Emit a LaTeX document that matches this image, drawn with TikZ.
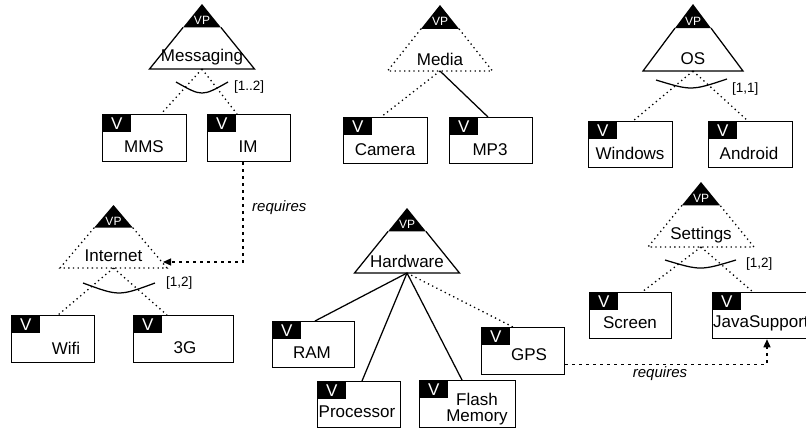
\documentclass[tikz,border=0pt]{standalone}
\usepackage{fontspec}
\setmainfont{Liberation Sans}
\usetikzlibrary{calc,arrows.meta}
\newcommand\vptri[7]{%
  \coordinate (#1A) at (#2,#3);
  \coordinate (#1L) at ({#2-#5},#4);
  \coordinate (#1R) at ({#2+#5},#4);
  \coordinate (#1B) at (#2,#4);
  \coordinate (#1l) at ($(#1A)!0.36!(#1L)$);
  \coordinate (#1r) at ($(#1A)!0.36!(#1R)$);
  \coordinate (#1m) at ($(#1l)!0.5!(#1r)$);
  \fill[white] (#1A)--(#1L)--(#1R)--cycle;
  \draw[#6] (#1l)--(#1L)--(#1R)--(#1r);
  \fill[black] (#1A)--(#1l)--(#1r)--cycle;
  \node[vptext] (#1vp) at ($(#1A)!0.7!(#1m)$) {VP};
  \node[lbl] (#1t) at ($(#1B)+(0,-12)$) {#7};
}
\newcommand\varbox[5]{%
  \node[vbox, anchor=north west, minimum width=#4pt, minimum height=#5pt] (#1) at (#2,#3) {};
  \node[vlab, anchor=north west] (#1v) at (#1.north west) {V};
}
\begin{document}
\begin{tikzpicture}[x=1pt,y=-1pt,
  line join=miter,
  solidline/.style={line width=1.25pt},
  dots/.style={line width=1.3pt, dash pattern=on 1.3pt off 3.4pt},
  vbox/.style={draw, fill=white, line width=1.25pt, inner sep=0pt},
  vlab/.style={fill=black, text=white, minimum width=29pt, minimum height=18pt, inner sep=0pt, font=\fontsize{17}{17}\selectfont},
  lbl/.style={inner sep=0pt, font=\fontsize{17}{16}\selectfont},
  vptext/.style={inner sep=0pt, text=white, font=\fontsize{12}{12}\selectfont},
  card/.style={inner sep=0pt, font=\fontsize{13.5}{13.5}\selectfont, anchor=west},
  grp/.style={line width=1.25pt},
  req/.style={line width=1.25pt, dash pattern=on 3pt off 4pt, -{Triangle[length=8pt,width=7pt]}},
  reqtext/.style={inner sep=0pt, font=\fontsize{15}{15}\itshape}
]
\useasboundingbox (0,0) rectangle (806,429);
\clip (0,0) rectangle (806,429);

% ---------- triangles ----------
\vptri{msg}{202}{4}{69}{52.5}{solidline}{Messaging}
\vptri{med}{440}{5}{71}{52.5}{dots}{Media}
\vptri{os}{693}{4}{71}{50}{solidline}{OS}
\vptri{inet}{113.5}{205}{268}{53.5}{dots}{Internet}
\vptri{hw}{407}{208}{273}{52.5}{solidline}{Hardware}
\vptri{set}{701}{182}{247}{53}{dots}{Settings}

% ---------- boxes ----------
\varbox{MMS}{102}{114}{84}{47}
\varbox{IM}{207}{114}{83}{47}
\varbox{Camera}{343}{117}{84}{46}
\varbox{MPthree}{449}{117}{83}{46}
\varbox{Windows}{588}{121}{84}{46}
\varbox{Android}{708}{121}{84}{46}
\varbox{Wifi}{11}{315}{83}{47}
\varbox{Gthree}{133}{315}{100}{47}
\varbox{RAM}{272}{321}{82}{46}
\varbox{Processor}{317}{381}{83}{46}
\varbox{Flash}{419}{380}{96}{47}
\varbox{GPS}{481}{327}{83}{47}
\varbox{Screen}{589}{292}{82}{46}
\varbox{Java}{712}{292}{110}{46}

% ---------- box texts ----------
\node[lbl] (MMSt) at (144,147) {MMS};
\node[lbl] (IMt) at (248,147) {IM};
\node[lbl] (Camerat) at (385,150) {Camera};
\node[lbl] (MPthreet) at (490,150) {MP3};
\node[lbl] (Windowst) at (630,153) {Windows};
\node[lbl] (Androidt) at (749,153) {Android};
\node[lbl] (Wifit) at (66,348) {Wifi};
\node[lbl] (Gthreet) at (185,348) {3G};
\node[lbl] (RAMt) at (312,353) {RAM};
\node[lbl] (Processort) at (357,412) {Processor};
\node[lbl, align=center] (Flasht) at (477,409) {Flash\\Memory};
\node[lbl] (GPSt) at (529,355) {GPS};
\node[lbl] (Screent) at (630,323) {Screen};
\node[lbl, anchor=west] (Javat) at (713,323) {JavaSupport};

% ---------- connectors ----------
\draw[dots] (msgB) -- ($(MMS.north west)+(59,0)$);
\draw[dots] (msgB) -- ($(IM.north west)+(30,0)$);
\draw[dots] (medB) -- ($(Camera.north west)+(38,0)$);
\draw[solidline] (medB) -- ($(MPthree.north west)+(39,0)$);
\draw[dots] (osB) -- ($(Windows.north west)+(45,0)$);
\draw[dots] (osB) -- ($(Android.north west)+(40,0)$);
\draw[dots] (inetB) -- ($(Wifi.north west)+(47,0)$);
\draw[dots] (inetB) -- ($(Gthree.north west)+(34,0)$);
\draw[solidline] (hwB) -- ($(RAM.north west)+(43,0)$);
\draw[solidline] (hwB) -- ($(Processor.north west)+(45,0)$);
\draw[solidline] (hwB) -- ($(Flash.north west)+(43,0)$);
\draw[dots] (hwB) -- ($(GPS.north west)+(32,0)$);
\draw[dots] (setB) -- ($(Screen.north west)+(53,0)$);
\draw[dots] (setB) -- ($(Java.north west)+(41,0)$);

% ---------- group arcs and cardinalities ----------
\draw[grp] (176,82) .. controls (202,96.7) .. (228,82);
\node[card] (msgc) at (234,87) {[1..2]};
\draw[grp] (656,80) .. controls (691.5,90.8) .. (727,79);
\node[card] (osc) at (732,89) {[1,1]};
\draw[grp] (83,283) .. controls (119,296.3) .. (155,283);
\node[card] (inetc) at (166,283) {[1,2]};
\draw[grp] (665,260) .. controls (700.5,270.7) .. (736,260);
\node[card] (setc) at (746,264) {[1,2]};

% ---------- requires ----------
\coordinate (inetTip) at (163,262);
\draw[req] ($(IM.south west)+(36,0)$) |- (inetTip);
\node[reqtext, anchor=west] (req1) at (252,208) {requires};
\draw[req] ($(GPS.south east)+(0,-11)$) -| ($(Java.south west)+(55,0)$);
\node[reqtext] (req2) at (660,374) {requires};
\end{tikzpicture}
\end{document}
